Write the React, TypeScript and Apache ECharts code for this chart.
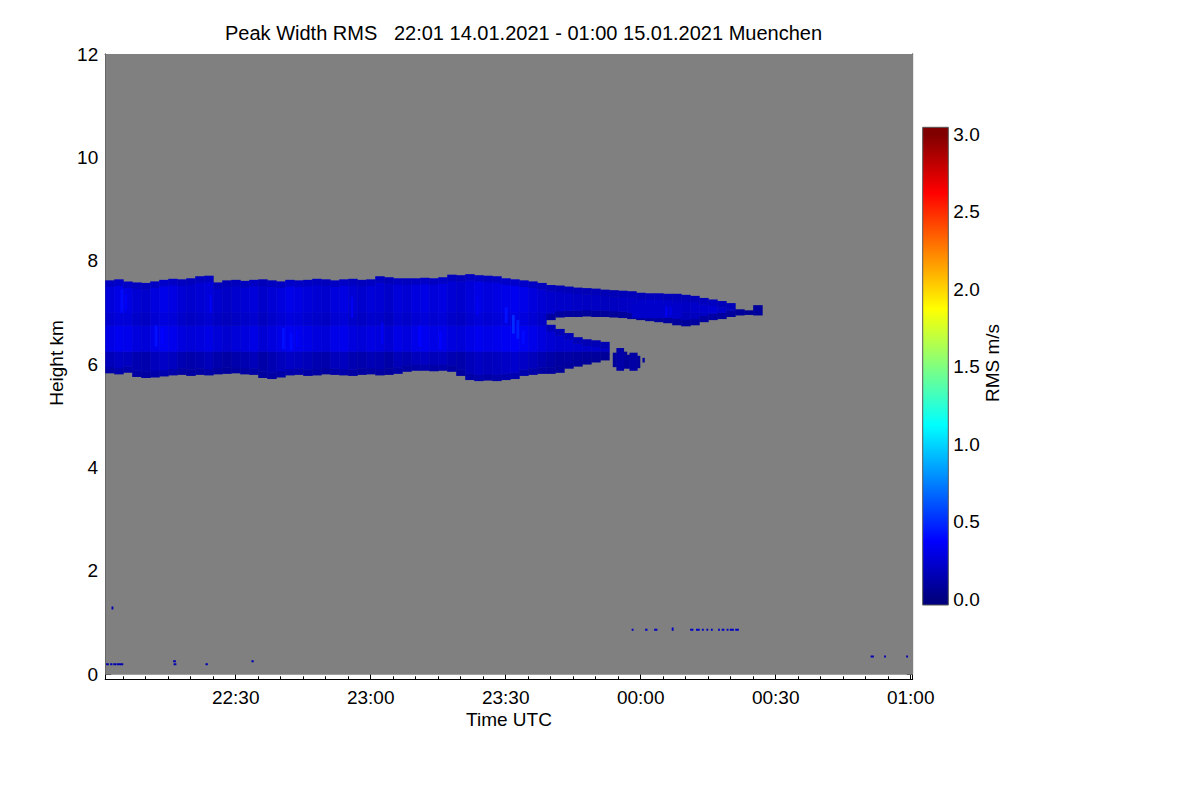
import React, { useEffect, useRef } from "react";
import * as echarts from "echarts";

// ---------------- text ----------------
const FONT = "Liberation Sans";
const TITLE = "Peak Width RMS   22:01 14.01.2021 - 01:00 15.01.2021 Muenchen";
const X_NAME = "Time UTC";
const Y_NAME = "Height km";
const CB_NAME = "RMS m/s";

// ---------------- axes (time in minutes after 22:00) ----------------
const TIME_RANGE = [1, 180.45];
const HEIGHT_RANGE = [-0.1, 12];
const RMS_AXIS_RANGE = [-0.037, 3.046];

const timeTickValues = [30, 60, 90, 120, 150, 180];
const timeTickLabels = ["22:30", "23:00", "23:30", "00:00", "00:30", "01:00"];
const timeMinorTicks = [5, 10, 15, 20, 25, 30, 35, 40, 45, 50, 55, 60, 65, 70, 75, 80, 85, 90, 95, 100, 105, 110, 115, 120, 125, 130, 135, 140, 145, 150, 155, 160, 165, 170, 175, 180];
const heightTickValues = [0, 2, 4, 6, 8, 10, 12];
const heightTickLabels = ["0", "2", "4", "6", "8", "10", "12"];
const heightMinorTicks = [0, 0.5, 1, 1.5, 2, 2.5, 3, 3.5, 4, 4.5, 5, 5.5, 6, 6.5, 7, 7.5, 8, 8.5, 9, 9.5, 10, 10.5, 11, 11.5, 12];
const rmsTickValues = [0, 0.5, 1, 1.5, 2, 2.5, 3];
const rmsTickLabels = ["0.0", "0.5", "1.0", "1.5", "2.0", "2.5", "3.0"];
const rmsMinorTicks = [0, 0.1667, 0.3333, 0.5, 0.6667, 0.8333, 1, 1.1667, 1.3333, 1.5, 1.6667, 1.8333, 2, 2.1667, 2.3333, 2.5, 2.6667, 2.8333, 3];

// ---------------- colour scale (jet) ----------------
const RMS_RANGE = [0, 3];
const jetColors = ["#000080", "#0000ff", "#0080ff", "#00ffff", "#80ff80", "#ffff00", "#ff8000", "#ff0000", "#800000"];
const jetStopValues = [0, 0.375, 0.75, 1.125, 1.5, 1.875, 2.25, 2.625, 3];
const NO_DATA_COLOR = "#808080";
const noDataExtent = [1, 180.45, 0, 12];

// ---------------- cloud columns (2-minute columns) ----------------
const COL_WIDTH = 2;
const colStart = [1, 3, 5, 7, 9, 11, 13, 15, 17, 19, 21, 23, 25, 27, 29, 31, 33, 35, 37, 39, 41, 43, 45, 47, 49, 51, 53, 55, 57, 59, 61, 63, 65, 67, 69, 71, 73, 75, 77, 79, 81, 83, 85, 87, 89, 91, 93, 95, 97, 99, 101, 103, 105, 107, 109, 111, 113, 115, 117, 119, 121, 123, 125, 127, 129, 131, 133, 135, 137, 139, 141, 143, 145];
const upperTop = [
  7.62, 7.64, 7.60, 7.58, 7.57, 7.60, 7.63, 7.65, 7.64, 7.66, 7.70, 7.71, 7.58,
  7.62, 7.63, 7.61, 7.63, 7.64, 7.62, 7.60, 7.63, 7.62,
  7.63, 7.65, 7.64, 7.62, 7.64, 7.65, 7.63, 7.64, 7.70, 7.68, 7.66, 7.66,
  7.66, 7.67, 7.66, 7.68, 7.73, 7.72, 7.74, 7.72, 7.71, 7.70,
  7.66, 7.64, 7.62, 7.60, 7.57, 7.53, 7.52, 7.50, 7.48, 7.47, 7.46, 7.44,
  7.43, 7.42, 7.41, 7.38, 7.37, 7.37, 7.36, 7.36, 7.34, 7.32,
  7.28, 7.25, 7.22, 7.18, 7.06, 7.04, 7.14,
];
const upperBase = [
  5.83, 5.81, 5.84, 5.76, 5.74, 5.75, 5.77, 5.79, 5.80, 5.78, 5.80, 5.79, 5.81,
  5.82, 5.83, 5.81, 5.80, 5.74, 5.72, 5.75,
  5.79, 5.80, 5.78, 5.79, 5.81, 5.80, 5.79, 5.78, 5.80, 5.81, 5.79, 5.80, 5.82,
  5.86, 5.88, 5.88, 5.87, 5.88, 5.86, 5.78, 5.70, 5.68, 5.69, 5.68, 5.70, 5.72,
  5.78, 5.80, 5.82,
  6.86, 6.91, 6.92, 6.92, 6.93, 6.92, 6.92, 6.91, 6.90, 6.88, 6.86, 6.84, 6.82,
  6.80, 6.76, 6.74, 6.76, 6.82, 6.86, 6.88, 6.92, 6.95, 6.96, 6.95,
];
const colShift = [
  0.02, 0.05, 0.04, 0.0, -0.02, 0.03, 0.06, 0.04, 0.0, -0.02, 0.0,
  0.02, -0.02, -0.04, -0.02, 0.0, 0.02, -0.03, 0.0, 0.03,
  0.06, 0.04, 0.02,
  0.0, -0.02, 0.03, 0.04, 0.0, -0.02, 0.01, 0.0, -0.03, 0.02, 0.0,
  0.03, 0.05, 0.02, 0.04, 0.0, -0.02, 0.02, 0.05, 0.03, 0.04,
  0.06, 0.08, 0.06, 0.03, 0.0,
  -0.02, -0.03, -0.03, -0.04, -0.05, -0.05, -0.06,
  -0.06, -0.05, -0.04, -0.03, -0.02, -0.02, -0.03, -0.04, -0.05, -0.03, -0.02, 0.0, -0.03, -0.04, -0.06, -0.07, -0.05,
];
// lower layer after the split (23:39 - 23:53)
const lowerStart = [99, 101, 103, 105, 107, 109, 111];
const lowerTop = [6.76, 6.68, 6.60, 6.52, 6.48, 6.46, 6.43];
const lowerBase = [5.82, 5.84, 5.92, 5.96, 6.00, 6.04, 6.08];
const lowerShift = [-0.03, -0.05, -0.04, -0.05, -0.06, -0.06, -0.07];

// vertical structure of RMS inside the cloud
const bandEdges = [6.25, 6.75, 7.0];
const bandRms = [0.15, 0.28, 0.22, 0.25];
const EDGE_DEPTH = 0.12;
const TOP_EDGE_RMS = 0.19;
const BASE_EDGE_RMS = 0.11;

// separate blobs and thin brighter streaks: [t0, t1, h0, h1, rms]
const blobs = [
  [113.8, 114.6, 5.95, 6.22, 0.09],
  [114.6, 116.2, 5.88, 6.31, 0.12],
  [116.2, 116.9, 5.92, 6.24, 0.09],
  [116.9, 117.5, 5.92, 6.18, 0.09],
  [117.5, 119.2, 5.88, 6.22, 0.11],
  [119.2, 119.8, 5.93, 6.16, 0.09],
  [120.4, 120.8, 6.04, 6.12, 0.09],
];
const brightStreaks = [
  [118, 129, 6.9, 7.15, 0.22],
  [4.4, 4.9, 7.0, 7.45, 0.4],
  [5.3, 5.7, 7.05, 7.35, 0.36],
  [12.0, 12.5, 6.35, 6.75, 0.42],
  [13.4, 13.9, 6.4, 6.7, 0.38],
  [24.2, 24.6, 7.0, 7.35, 0.34],
  [40.3, 40.8, 6.3, 6.7, 0.42],
  [42.0, 42.5, 6.28, 6.6, 0.4],
  [43.4, 43.8, 6.35, 6.65, 0.36],
  [55.6, 56.0, 6.9, 7.3, 0.34],
  [62.3, 62.7, 6.4, 6.8, 0.34],
  [70.6, 71.1, 6.35, 6.75, 0.38],
  [75.2, 75.7, 6.3, 6.62, 0.38],
  [83.5, 83.9, 6.95, 7.3, 0.34],
  [89.8, 90.3, 6.8, 7.1, 0.42],
  [91.4, 91.9, 6.6, 6.95, 0.5],
  [92.4, 92.9, 6.5, 6.85, 0.46],
  [93.6, 94.1, 6.4, 6.65, 0.4],
  [125.4, 125.9, 6.92, 7.12, 0.32],
  [126.4, 126.8, 6.95, 7.1, 0.3],
];
// low-level specks: [t0, t1, h0, h1, rms]
const specks = [
  [1.2, 1.7, 0.18, 0.21, 0.15],
  [2.1, 2.5, 0.18, 0.21, 0.15],
  [2.8, 3.4, 0.18, 0.21, 0.15],
  [3.6, 4.9, 0.18, 0.21, 0.15],
  [16.1, 16.6, 0.24, 0.27, 0.15],
  [16.2, 16.7, 0.18, 0.21, 0.15],
  [23.3, 23.7, 0.18, 0.21, 0.15],
  [33.5, 33.9, 0.24, 0.27, 0.15],
  [2.4, 2.7, 1.26, 1.31, 0.15],
  [118.0, 118.3, 0.85, 0.88, 0.2],
  [121.0, 121.4, 0.85, 0.88, 0.2],
  [123.0, 123.6, 0.85, 0.88, 0.2],
  [126.9, 127.2, 0.85, 0.9, 0.2],
  [131.0, 131.6, 0.85, 0.88, 0.2],
  [132.3, 133.0, 0.85, 0.88, 0.2],
  [133.6, 133.9, 0.85, 0.88, 0.2],
  [134.6, 134.9, 0.85, 0.88, 0.2],
  [135.6, 135.9, 0.85, 0.88, 0.2],
  [137.2, 137.5, 0.85, 0.88, 0.2],
  [138.0, 138.5, 0.85, 0.88, 0.2],
  [139.1, 139.4, 0.85, 0.88, 0.2],
  [139.8, 140.6, 0.85, 0.88, 0.2],
  [141.0, 141.7, 0.85, 0.88, 0.2],
  [171.1, 171.7, 0.33, 0.36, 0.15],
  [174.1, 174.4, 0.33, 0.36, 0.15],
  [179.0, 179.3, 0.33, 0.36, 0.15],
];

function pushColumn(out: number[][], t0: number, base: number, top: number, shift: number) {
  const t1 = t0 + COL_WIDTH;
  const topEdge = Math.max(0.02, TOP_EDGE_RMS + shift * 0.5);
  const baseEdge = Math.max(0.02, BASE_EDGE_RMS + shift * 0.5);
  if (top - base <= 2 * EDGE_DEPTH) {
    out.push([t0, t1, base, top, baseEdge]);
    return;
  }
  const lo = base + EDGE_DEPTH;
  const hi = top - EDGE_DEPTH;
  out.push([t0, t1, base, lo, baseEdge]);
  const cuts = [lo, ...bandEdges.filter((e) => e > lo && e < hi), hi];
  for (let i = 0; i < cuts.length - 1; i++) {
    const mid = (cuts[i] + cuts[i + 1]) / 2;
    const idx = bandEdges.filter((e) => e <= mid).length;
    out.push([t0, t1, cuts[i], cuts[i + 1], Math.max(0.02, bandRms[idx] + shift)]);
  }
  out.push([t0, t1, hi, top, topEdge]);
}

function buildCells(): number[][] {
  const out: number[][] = [];
  colStart.forEach((t, k) => pushColumn(out, t, upperBase[k], upperTop[k], colShift[k]));
  lowerStart.forEach((t, k) => pushColumn(out, t, lowerBase[k], lowerTop[k], lowerShift[k]));
  blobs.forEach((b) => out.push(b));
  brightStreaks.forEach((b) => out.push(b));
  specks.forEach((b) => out.push(b));
  return out;
}

const black = { color: "#000", width: 1 };

function labelFrom(values: number[], labels: string[]) {
  return (v: number) => {
    const i = values.findIndex((x) => Math.abs(x - v) < 1e-6);
    return i >= 0 ? labels[i] : "";
  };
}

function timeAxis(position: string, major: boolean, labels: boolean) {
  return {
    gridIndex: 0,
    type: "value",
    min: TIME_RANGE[0],
    max: TIME_RANGE[1],
    position,
    axisLine: { show: major, onZero: false, lineStyle: black },
    splitLine: { show: false },
    axisTick: {
      show: true,
      inside: true,
      length: major ? 6 : 3,
      customValues: major ? timeTickValues : timeMinorTicks,
      lineStyle: black,
    },
    axisLabel: labels
      ? {
          show: true,
          customValues: timeTickValues,
          formatter: labelFrom(timeTickValues, timeTickLabels),
          fontSize: 19,
          fontFamily: FONT,
          color: "#000",
          margin: 9,
        }
      : { show: false },
  };
}

function heightAxis(position: string, major: boolean, labels: boolean) {
  return {
    gridIndex: 0,
    type: "value",
    min: HEIGHT_RANGE[0],
    max: HEIGHT_RANGE[1],
    position,
    axisLine: { show: major, onZero: false, lineStyle: black },
    splitLine: { show: false },
    axisTick: {
      show: true,
      inside: true,
      length: major ? 6 : 3,
      customValues: major ? heightTickValues : heightMinorTicks,
      lineStyle: black,
    },
    axisLabel: labels
      ? {
          show: true,
          customValues: heightTickValues,
          formatter: labelFrom(heightTickValues, heightTickLabels),
          fontSize: 19,
          fontFamily: FONT,
          color: "#000",
          margin: 7,
        }
      : { show: false },
  };
}

function buildOption() {
  const cells = buildCells();
  const rectFromItem = (fill: any) => (params: any, api: any) => {
    const p0 = api.coord([api.value(0), api.value(3)]);
    const p1 = api.coord([api.value(1), api.value(2)]);
    return {
      type: "rect",
      shape: { x: p0[0], y: p0[1], width: p1[0] - p0[0] + 0.5, height: p1[1] - p0[1] + 0.5 },
      style: { fill: fill === null ? api.visual("color") : fill },
    };
  };

  return {
    animation: false,
    backgroundColor: "#fff",
    textStyle: { fontFamily: FONT, color: "#000" },
    grid: [
      { left: 105.2, top: 54, width: 807.5, height: 625.3, show: false },
      { left: 922.7, top: 127.3, width: 25.6, height: 477.7, show: false },
    ],
    xAxis: [
      timeAxis("bottom", true, true),
      timeAxis("bottom", false, false),
      timeAxis("top", true, false),
      timeAxis("top", false, false),
      { gridIndex: 1, type: "value", min: 0, max: 1, show: false },
    ],
    yAxis: [
      heightAxis("left", true, true),
      heightAxis("left", false, false),
      heightAxis("right", true, false),
      heightAxis("right", false, false),
      {
        gridIndex: 1,
        type: "value",
        min: RMS_AXIS_RANGE[0],
        max: RMS_AXIS_RANGE[1],
        position: "right",
        axisLine: { show: false, onZero: false },
        splitLine: { show: false },
        axisTick: {
          show: true,
          inside: true,
          length: 3,
          customValues: rmsMinorTicks,
          lineStyle: { color: "#222", width: 1 },
        },
        axisLabel: {
          show: true,
          customValues: rmsTickValues,
          formatter: labelFrom(rmsTickValues, rmsTickLabels),
          fontSize: 19,
          fontFamily: FONT,
          color: "#000",
          margin: 5,
        },
      },
    ],
    visualMap: {
      show: false,
      type: "continuous",
      min: RMS_RANGE[0],
      max: RMS_RANGE[1],
      dimension: 4,
      seriesIndex: 1,
      inRange: { color: jetColors },
    },
    series: [
      {
        type: "custom",
        xAxisIndex: 0,
        yAxisIndex: 0,
        silent: true,
        z: 1,
        clip: true,
        data: [noDataExtent],
        renderItem: rectFromItem(NO_DATA_COLOR),
      },
      {
        type: "custom",
        xAxisIndex: 0,
        yAxisIndex: 0,
        silent: true,
        z: 2,
        clip: true,
        data: cells,
        renderItem: rectFromItem(null),
      },
      {
        type: "custom",
        xAxisIndex: 4,
        yAxisIndex: 4,
        silent: true,
        z: 2,
        data: [[0.5, 1.5]],
        renderItem: (params: any, api: any) => {
          const cs = params.coordSys;
          const bottom = cs.y + cs.height;
          const stops = jetColors.map((c, i) => {
            const y = api.coord([0.5, jetStopValues[i]])[1];
            return { offset: (bottom - y) / cs.height, color: c };
          });
          return {
            type: "rect",
            shape: { x: cs.x, y: cs.y, width: cs.width, height: cs.height },
            style: {
              fill: new echarts.graphic.LinearGradient(0, 1, 0, 0, stops),
              stroke: "#555",
              lineWidth: 1,
            },
          };
        },
      },
    ],
    graphic: [
      {
        type: "text",
        x: 225,
        y: 33,
        style: { text: TITLE, font: `20px "${FONT}"`, fill: "#000", align: "left", verticalAlign: "middle" },
      },
      {
        type: "text",
        x: 509,
        y: 719,
        style: { text: X_NAME, font: `19px "${FONT}"`, fill: "#000", align: "center", verticalAlign: "middle" },
      },
      {
        type: "text",
        x: 56,
        y: 363,
        rotation: Math.PI / 2,
        style: { text: Y_NAME, font: `19px "${FONT}"`, fill: "#000", align: "center", verticalAlign: "middle" },
      },
      {
        type: "text",
        x: 992,
        y: 363,
        rotation: Math.PI / 2,
        style: { text: CB_NAME, font: `19px "${FONT}"`, fill: "#000", align: "center", verticalAlign: "middle" },
      },
    ],
  };
}

export default function App() {
  const ref = useRef<HTMLDivElement>(null);
  useEffect(() => {
    if (!ref.current) return;
    const chart = echarts.init(ref.current, null, { renderer: "svg" });
    chart.setOption(buildOption() as any);
    return () => chart.dispose();
  }, []);
  return (
    <div
      ref={ref}
      style={{ position: "absolute", left: 0, top: 0, width: 1200, height: 800, background: "#fff" }}
    />
  );
}
